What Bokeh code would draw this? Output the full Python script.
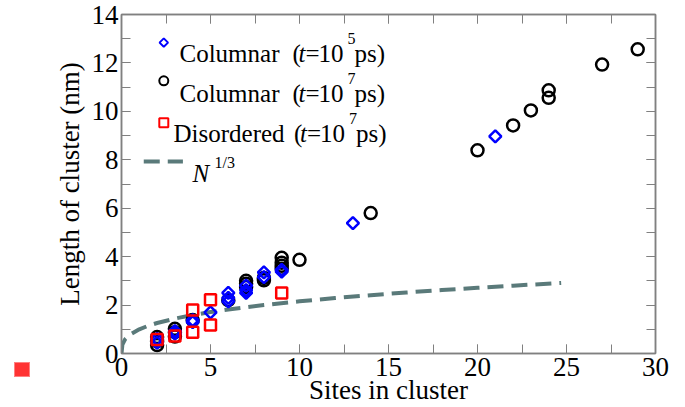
from bokeh.plotting import figure
from bokeh.models import LinearAxis, SingleIntervalTicker, Label, Range1d
from bokeh.embed import file_html
from bokeh.resources import INLINE

# ---------------- data ----------------
col5_x = [2, 2, 3, 3, 4, 4, 5, 6, 6, 6, 7, 7, 7, 8, 8, 9, 9, 13, 21]
col5_y = [0.45, 0.6, 0.82, 0.92, 1.3, 1.38, 1.7, 2.15, 2.3, 2.5, 2.5, 2.62, 2.8,
          3.15, 3.35, 3.38, 3.45, 5.38, 8.97]

col7_x = [2, 2, 2, 3, 3, 3, 4, 6, 7, 7, 7, 8, 8, 9, 9, 9, 9, 10, 14, 20, 22, 23, 24, 24, 27, 29]
col7_y = [0.35, 0.5, 0.68, 0.7, 0.88, 1.02, 1.38, 2.2, 2.75, 2.88, 3.0, 3.02, 3.12,
          3.5, 3.62, 3.75, 3.95, 3.87, 5.8, 8.39, 9.42, 10.04, 10.56, 10.87, 11.93, 12.56]

dis_x = [2, 3, 4, 4, 5, 5, 9]
dis_y = [0.58, 0.72, 0.88, 1.8, 1.18, 2.22, 2.5]

curve_x = [0, 0.05, 0.2, 0.5, 1, 1.5, 2, 3, 4, 5, 6, 8, 10, 12, 14, 16, 18, 20, 22, 24.7]
curve_y = [0, 0.368, 0.585, 0.794, 1.0, 1.145, 1.26, 1.442, 1.587, 1.71, 1.817, 2.0,
           2.154, 2.289, 2.41, 2.52, 2.621, 2.714, 2.802, 2.912]

x_label = "Sites in cluster"
y_label = "Length of cluster (nm)"

# ---------------- style ----------------
AXIS = "#808080"
CURVE = "#5a7a7a"
FONT = "Liberation Serif"

p = figure(width=685, height=407, x_range=Range1d(0, 30), y_range=Range1d(0, 14),
           output_backend="svg", toolbar_location=None,
           min_border_left=121, min_border_right=30, min_border_top=14, min_border_bottom=54)
p.xgrid.visible = False
p.ygrid.visible = False
p.outline_line_color = AXIS
p.outline_line_width = 1.5
p.background_fill_color = "white"
p.border_fill_color = "white"

# small stray red square in the lower-left corner of the picture
p.stylesheets = [
    ":host::after { content: ''; position: fixed; left: 14px; top: 362px; "
    "width: 16px; height: 15px; background: #ff3333; "
    "border: 1px solid #ff8080; box-sizing: border-box; }"
]


def style_axis(ax, interval, show_labels=True):
    ax.ticker = SingleIntervalTicker(interval=interval, num_minor_ticks=2)
    ax.axis_line_color = AXIS
    ax.axis_line_width = 1.5
    ax.major_tick_in = 9
    ax.major_tick_out = 0
    ax.minor_tick_in = 9
    ax.minor_tick_out = 0
    ax.major_tick_line_color = AXIS
    ax.minor_tick_line_color = AXIS
    ax.major_label_text_font = FONT
    if show_labels:
        ax.major_label_text_font_size = "27px"
        ax.major_label_text_color = "black"
    else:
        ax.major_label_text_font_size = "0px"
        ax.major_label_text_color = None


style_axis(p.xaxis[0], 5)
style_axis(p.yaxis[0], 2)
p.xaxis[0].major_label_standoff = 4
p.yaxis[0].major_label_standoff = 3
p.xaxis[0].axis_label = x_label
p.yaxis[0].axis_label = y_label
for ax in (p.xaxis[0], p.yaxis[0]):
    ax.axis_label_text_font = FONT
    ax.axis_label_text_font_size = "27px"
    ax.axis_label_text_font_style = "normal"
    ax.axis_label_text_color = "black"
p.xaxis[0].axis_label_standoff = -4
p.yaxis[0].axis_label_standoff = 4

top_ax = LinearAxis()
right_ax = LinearAxis()
style_axis(top_ax, 5, False)
style_axis(right_ax, 2, False)
p.add_layout(top_ax, "above")
p.add_layout(right_ax, "right")

# ---------------- marks ----------------
p.line(curve_x, curve_y, line_color=CURVE, line_width=4, line_dash="16 8")

p.scatter(col7_x, col7_y, marker="circle", size=12, line_color="black",
          line_width=2.5, fill_alpha=0)
p.scatter(col5_x, col5_y, marker="square", angle=0.785398, size=8.5, line_color="#0000ff",
          line_width=2.5, fill_alpha=0)
p.scatter(dis_x, dis_y, marker="square", size=11, line_color="#ff0000",
          line_width=2.5, fill_alpha=0)

# ---------------- legend (manual) ----------------
p.scatter([2.376], [12.84], marker="square", angle=0.785398, size=6, line_color="#0000ff",
          line_width=2, fill_alpha=0)
p.scatter([2.376], [11.26], marker="circle", size=9, line_color="black",
          line_width=2, fill_alpha=0)
p.scatter([2.376], [9.53], marker="square", size=9, line_color="#ff0000",
          line_width=2, fill_alpha=0)
p.line([1.25, 3.45], [7.93, 7.93], line_color=CURVE, line_width=4, line_dash="16 8")


def lab(text, x, y, size="25px", style="normal", align="left"):
    p.add_layout(Label(x=x, y=y, x_units="screen", y_units="screen", text=text,
                       text_font=FONT, text_font_size=size, text_font_style=style,
                       text_color="black", text_align=align, text_baseline="alphabetic"))


rows = [
    (300, "Columnar", 58, 0, "5"),
    (260.5, "Columnar", 58, 0, "7"),
    (220, "Disordered", 52, 1.5, "7"),
]
for base, word, wx, dx, sup in rows:
    lab(word, wx, base)
    lab("(", 171 + dx, base)
    lab("t", 177 + dx, base, style="italic")
    lab("=", 184 + dx, base)
    lab("10", 197 + dx, base)
    lab(sup, 226 + dx, base + 15, size="16px")
    lab("ps)", 233 + dx, base)

lab("N", 71, 180, style="italic")
lab("1/3", 93, 191, size="16px")

open("out.html", "w").write(file_html(p, INLINE))
